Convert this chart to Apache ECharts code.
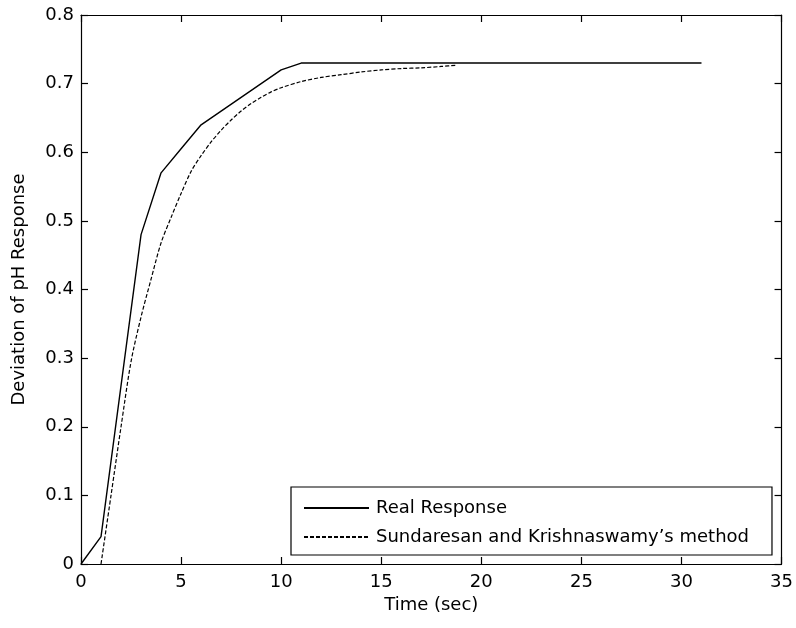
<!DOCTYPE html>
<html>
<head>
<meta charset="utf-8">
<script src="https://cdn.jsdelivr.net/npm/echarts@6/dist/echarts.min.js"></script>
<style>
    html, body { margin: 0; padding: 0; background: #fff; }
    #chart { width: 796px; height: 628px; }
</style>
</head>
<body>
<div id="chart"></div>
<script>
// real response (solid)
var realTime = [0, 1, 3, 4, 5, 6, 7, 8, 9, 10, 11, 31];
var realPh = [0, 0.04, 0.48, 0.57, 0.605, 0.64, 0.66, 0.68, 0.70, 0.72, 0.73, 0.73];

// Sundaresan and Krishnaswamy's method (dashed)
var skTime = [1, 1.5, 2, 2.5, 3, 3.5, 4, 4.5, 5, 5.5, 6, 6.5, 7, 7.5, 8, 8.5, 9, 9.5, 10, 11, 12, 13, 14, 15, 16, 17, 18, 18.8];
var skPh = [0, 0.10, 0.20, 0.295, 0.36, 0.415, 0.468, 0.505, 0.54, 0.572, 0.595, 0.615, 0.632, 0.647, 0.66, 0.671, 0.68, 0.688, 0.694, 0.703, 0.709, 0.713, 0.717, 0.72, 0.722, 0.723, 0.725, 0.727];

var seriesNames = ["Real Response", "Sundaresan and Krishnaswamy\u2019s method"];

function pairs(xs, ys) {
    return xs.map(function (x, i) { return [x, ys[i]]; });
}

var font = "DejaVu Sans, sans-serif";
var axisLine = { show: true, onZero: false, lineStyle: { color: "#000", width: 1.2 } };
var tick = { show: true, inside: true, length: 7, lineStyle: { color: "#000", width: 1.2 } };

var myChart = echarts.init(document.getElementById("chart"));
myChart.setOption({
    animation: false,
    backgroundColor: "#fff",
    textStyle: { fontFamily: font },
    grid: { left: 81, right: 14, top: 15, bottom: 64, containLabel: false },
    legend: {
        orient: "vertical",
        left: 291,
        top: 487,
        padding: [11, 23, 8, 12],
        itemGap: 9,
        itemWidth: 65,
        itemHeight: 20,
        borderColor: "#000",
        borderWidth: 1.2,
        borderRadius: 0,
        backgroundColor: "#fff",
        itemStyle: { opacity: 0 },
        textStyle: { fontFamily: font, fontSize: 18, lineHeight: 20, color: "#000", padding: [0, 0, 0, 2] },
        data: seriesNames
    },
    xAxis: [{
        type: "value",
        min: 0, max: 35, interval: 5,
        position: "bottom",
        name: "Time (sec)",
        nameLocation: "middle",
        nameGap: 27,
        nameTextStyle: { fontFamily: font, fontSize: 18, color: "#000" },
        axisLine: axisLine,
        axisTick: tick,
        axisLabel: { color: "#000", fontSize: 18, fontFamily: font, margin: 9 },
        splitLine: { show: false }
    }, {
        type: "value",
        min: 0, max: 35, interval: 5,
        position: "top",
        axisLine: axisLine,
        axisTick: tick,
        axisLabel: { show: false },
        splitLine: { show: false }
    }],
    yAxis: [{
        type: "value",
        min: 0, max: 0.8, interval: 0.1,
        position: "left",
        name: "Deviation of pH Response",
        nameLocation: "middle",
        nameGap: 53,
        nameTextStyle: { fontFamily: font, fontSize: 18, color: "#000" },
        axisLine: axisLine,
        axisTick: tick,
        axisLabel: {
            color: "#000", fontSize: 18, fontFamily: font, margin: 7,
            formatter: function (v) { return v === 0 ? "0" : v.toFixed(1); }
        },
        splitLine: { show: false }
    }, {
        type: "value",
        min: 0, max: 0.8, interval: 0.1,
        position: "right",
        axisLine: axisLine,
        axisTick: tick,
        axisLabel: { show: false },
        splitLine: { show: false }
    }],
    series: [{
        name: seriesNames[0],
        type: "line",
        showSymbol: false,
        symbol: "none",
        lineStyle: { color: "#000", width: 1.4, type: "solid" },
        itemStyle: { color: "#000" },
        data: pairs(realTime, realPh)
    }, {
        name: seriesNames[1],
        type: "line",
        showSymbol: false,
        symbol: "none",
        smooth: 0.3,
        lineStyle: { color: "#000", width: 1.2, type: [4, 2] },
        itemStyle: { color: "#000" },
        data: pairs(skTime, skPh)
    }]
});
</script>
</body>
</html>
